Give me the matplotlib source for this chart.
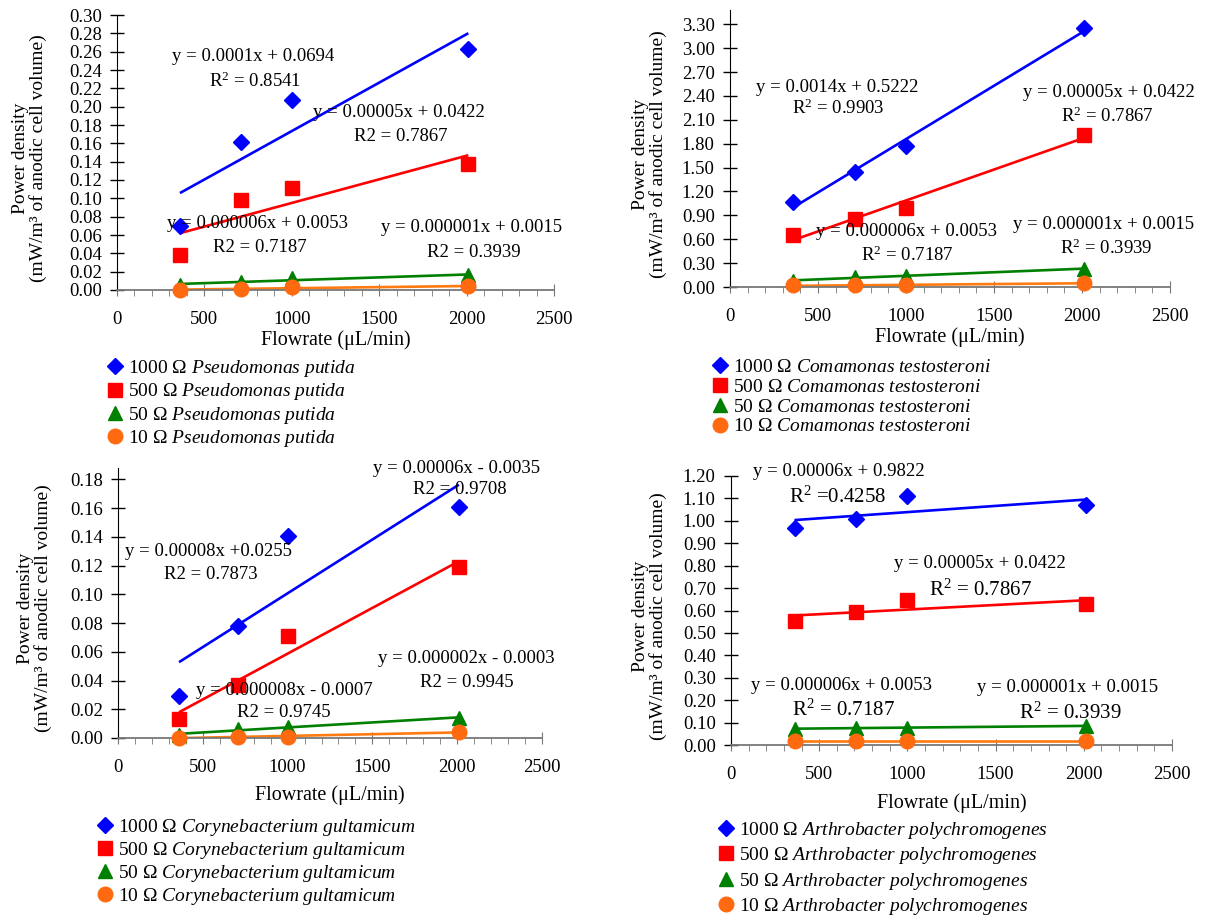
import numpy as np
import matplotlib
matplotlib.use("Agg")
import matplotlib.pyplot as plt
from matplotlib.ticker import MultipleLocator, FormatStrFormatter

plt.rcParams["font.family"] = ["Liberation Serif", "DejaVu Serif"]
plt.rcParams["mathtext.fontset"] = "custom"
plt.rcParams["mathtext.rm"] = "Liberation Serif"
plt.rcParams["mathtext.it"] = "Liberation Serif:italic"

# ── Data ──────────────────────────────────────────────────────────────────────
FLOW = [360, 710, 1000, 2010]          # µL/min
RESIST = ["1000", "500", "50", "10"]  # Ω

P_PUTIDA = [
    [0.070, 0.162, 0.207, 0.263],
    [0.038, 0.098, 0.111, 0.137],
    [0.005, 0.009, 0.013, 0.016],
    [0.000, 0.001, 0.003, 0.004],
]
C_TESTO = [
    [1.07, 1.45, 1.77, 3.25],
    [0.65, 0.86, 0.99, 1.91],
    [0.08, 0.12, 0.14, 0.23],
    [0.02, 0.02, 0.02, 0.05],
]
C_GULT = [
    [0.029, 0.078, 0.141, 0.161],
    [0.013, 0.037, 0.071, 0.119],
    [0.002, 0.006, 0.008, 0.014],
    [0.000, 0.001, 0.001, 0.004],
]
A_POLY = [
    [0.97, 1.01, 1.11, 1.07],
    [0.553, 0.592, 0.645, 0.630],
    [0.072, 0.076, 0.078, 0.085],
    [0.018, 0.018, 0.018, 0.018],
]

SPECIES = ["Pseudomonas putida", "Comamonas testosteroni",
           "Corynebacterium gultamicum", "Arthrobacter polychromogenes"]

NOTES_TL = [
    ("y = 0.0001x + 0.0694", 0.312, 0.848, 13.5),
    ("R$^2$ = 0.8541", 0.317, 0.759, 13.5),
    ("y = 0.00005x + 0.0422", 0.646, 0.644, 13.5),
    ("R2 = 0.7867", 0.649, 0.557, 13.5),
    ("y = 0.000006x + 0.0053", 0.322, 0.243, 13.5),
    ("R2 = 0.7187", 0.326, 0.156, 13.5),
    ("y = 0.000001x + 0.0015", 0.812, 0.228, 13.5),
    ("R2 = 0.3939", 0.817, 0.137, 13.5),
]
NOTES_TR = [
    ("y = 0.0014x + 0.5222", 0.244, 0.720, 13.5),
    ("R$^2$ = 0.9903", 0.246, 0.644, 13.5),
    ("y = 0.00005x + 0.0422", 0.860, 0.701, 13.5),
    ("R$^2$ = 0.7867", 0.857, 0.617, 13.5),
    ("y = 0.000006x + 0.0053", 0.402, 0.199, 13.5),
    ("R$^2$ = 0.7187", 0.402, 0.114, 13.5),
    ("y = 0.000001x + 0.0015", 0.850, 0.226, 13.5),
    ("R$^2$ = 0.3939", 0.856, 0.138, 13.5),
]
NOTES_BL = [
    ("y = 0.00006x - 0.0035", 0.798, 0.998, 13.5),
    ("R2 = 0.9708", 0.805, 0.920, 13.5),
    ("y = 0.00008x +0.0255", 0.214, 0.691, 13.5),
    ("R2 = 0.7873", 0.218, 0.605, 13.5),
    ("y = 0.000002x - 0.0003", 0.821, 0.296, 13.5),
    ("R2 = 0.9945", 0.823, 0.207, 13.5),
    ("y = 0.000008x - 0.0007", 0.392, 0.175, 13.5),
    ("R2 = 0.9745", 0.392, 0.096, 13.5),
]
NOTES_BR = [
    ("y = 0.00006x + 0.9822", 0.245, 1.015, 13.5),
    ("R$^2$ =0.4258", 0.243, 0.922, 15),
    ("y = 0.00005x + 0.0422", 0.564, 0.673, 13.5),
    ("R$^2$ = 0.7867", 0.566, 0.577, 15),
    ("y = 0.000006x + 0.0053", 0.250, 0.221, 13.5),
    ("R$^2$ = 0.7187", 0.254, 0.128, 15),
    ("y = 0.000001x + 0.0015", 0.763, 0.212, 13.5),
    ("R$^2$ = 0.3939", 0.770, 0.120, 15),
]

# ── Styles ────────────────────────────────────────────────────────────────────
MARKERS = [("D", "#0000FF", 8), ("s", "#FF0000", 10),
           ("^", "#008000", 10), ("o", "#FF6A10", 10.5)]
LINE_COLS = ["#0000FF", "#FF0000", "#008000", "#FF7A10"]
AXIS_GREY = "#777777"

W, H = 1209, 916
fig = plt.figure(figsize=(W / 100, H / 100), dpi=100, facecolor="white")


def px_rect(l, t, r, b):
    return [l / W, 1 - b / H, (r - l) / W, (b - t) / H]


def draw_panel(box, series, species, ytop, ymax, ystep, notes,
               ylab_x, xlab_y, leg_xy, leg_space):
    ax = fig.add_axes(px_rect(*box))
    x = np.array(FLOW, dtype=float)
    handles = []
    for vals, (mk, col, ms), lcol, res in zip(series, MARKERS, LINE_COLS, RESIST):
        y = np.array(vals, dtype=float)
        k, b = np.polyfit(x, y, 1)
        xs = np.array([x.min(), x.max()])
        ax.plot(xs, k * xs + b, color=lcol, lw=1.9, zorder=2,
                solid_capstyle="butt")
        h, = ax.plot(x, y, ls="none", marker=mk, ms=ms, color=col,
                     mec=col, clip_on=False, zorder=3,
                     label=res + r" Ω $\mathit{" + species.replace(" ", r"\ ") + "}$")
        handles.append(h)

    ax.set_xlim(0, 2500)
    ax.set_ylim(0, ytop)
    ax.xaxis.set_major_locator(MultipleLocator(500))
    ax.xaxis.set_minor_locator(MultipleLocator(100))
    ax.set_yticks(np.arange(0, ymax + ystep / 2, ystep))
    ax.yaxis.set_major_formatter(FormatStrFormatter("%.2f"))

    for s in ["top", "right"]:
        ax.spines[s].set_visible(False)
    ax.spines["left"].set_color("black")
    ax.spines["bottom"].set_color(AXIS_GREY)
    ax.spines["bottom"].set_linewidth(1.3)

    ax.tick_params(axis="y", direction="inout", length=10, width=1,
                   labelsize=13.5, pad=6)
    ax.tick_params(axis="x", which="major", direction="inout", length=8,
                   color=AXIS_GREY, labelsize=13.5, pad=11)
    ax.tick_params(axis="x", which="minor", direction="out", length=4,
                   color=AXIS_GREY)

    ax.set_ylabel("Power density\n(mW/m³ of anodic cell volume)",
                  fontsize=14, linespacing=1.0, va="center", ha="center")
    ax.yaxis.set_label_coords(ylab_x, 0.48)
    ax.set_xlabel("Flowrate (μL/min)", fontsize=14.5, va="center")
    ax.xaxis.set_label_coords(0.5, xlab_y)

    for txt, fx, fy, fs in notes:
        ax.text(fx, fy, txt, transform=ax.transAxes, ha="center",
                va="center", fontsize=fs)

    ax.legend(handles=handles, loc="upper left",
              bbox_to_anchor=(leg_xy[0] / W, 1 - leg_xy[1] / H),
              bbox_transform=fig.transFigure, frameon=False, fontsize=14,
              handlelength=0.6, handletextpad=0.4, borderpad=0,
              borderaxespad=0, labelspacing=leg_space, markerscale=1.0)
    return ax


draw_panel((117, 15, 554, 290), P_PUTIDA, SPECIES[0], 0.30, 0.30, 0.02,
           NOTES_TL, -0.201, -0.182, (109, 358), 0.12)
draw_panel((730, 10, 1170, 287), C_TESTO, SPECIES[1], 3.48, 3.30, 0.30,
           NOTES_TR, -0.182, -0.181, (714, 358), 0.12)
draw_panel((118, 468, 542, 738), C_GULT, SPECIES[2], 0.188, 0.18, 0.02,
           NOTES_BL, -0.198, -0.211, (99, 817), 0.10)
draw_panel((731, 476, 1172, 745), A_POLY, SPECIES[3], 1.20, 1.20, 0.10,
           NOTES_BR, -0.184, -0.216, (720, 820), 0.22)

fig.savefig("out.png", dpi=100, facecolor="white")
